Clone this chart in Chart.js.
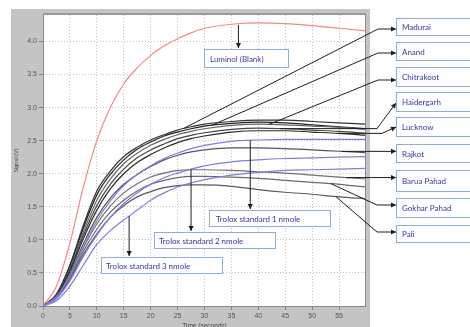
<!DOCTYPE html>
<html><head><meta charset="utf-8">
<script src="https://cdn.jsdelivr.net/npm/chart.js@4.4.0/dist/chart.umd.min.js"></script>
<style>html,body{margin:0;padding:0;background:#fff;overflow:hidden}</style>
</head><body>
<canvas id="c" width="470" height="327"></canvas>
<script>
// ---- data ----
const times      = [0, 2.5, 5, 7.5, 10, 12.5, 15, 17.5, 20, 22.5, 25, 27.5, 30, 35, 40, 45, 50, 55, 60];
const luminol    = [0, 0.30, 0.95, 1.80, 2.50, 3.00, 3.36, 3.60, 3.79, 3.93, 4.04, 4.13, 4.20, 4.26, 4.28, 4.27, 4.24, 4.20, 4.16];
const madurai    = [0, 0.18, 0.62, 1.22, 1.74, 2.04, 2.26, 2.40, 2.51, 2.59, 2.66, 2.71, 2.75, 2.79, 2.81, 2.81, 2.79, 2.77, 2.75];
const anand      = [0, 0.17, 0.60, 1.18, 1.68, 1.99, 2.21, 2.37, 2.48, 2.57, 2.63, 2.68, 2.72, 2.76, 2.78, 2.77, 2.74, 2.71, 2.68];
const chitrakoot = [0, 0.16, 0.57, 1.12, 1.60, 1.92, 2.15, 2.31, 2.43, 2.52, 2.59, 2.64, 2.68, 2.73, 2.75, 2.74, 2.72, 2.70, 2.67];
const haidergarh = [0, 0.16, 0.55, 1.07, 1.52, 1.84, 2.07, 2.24, 2.36, 2.45, 2.53, 2.58, 2.62, 2.67, 2.69, 2.68, 2.66, 2.64, 2.61];
const lucknow    = [0, 0.15, 0.52, 1.02, 1.45, 1.77, 2.00, 2.17, 2.29, 2.39, 2.47, 2.53, 2.57, 2.63, 2.65, 2.65, 2.63, 2.61, 2.58];
const rajkot     = [0, 0.14, 0.48, 0.94, 1.34, 1.63, 1.84, 1.99, 2.11, 2.21, 2.28, 2.33, 2.36, 2.39, 2.39, 2.38, 2.36, 2.34, 2.32];
const baruaPahad = [0, 0.13, 0.45, 0.88, 1.24, 1.51, 1.71, 1.85, 1.95, 2.01, 2.05, 2.06, 2.06, 2.05, 2.03, 2.01, 1.98, 1.95, 1.92];
const gokharPahad= [0, 0.12, 0.42, 0.83, 1.16, 1.42, 1.60, 1.74, 1.84, 1.90, 1.94, 1.96, 1.96, 1.95, 1.93, 1.90, 1.87, 1.84, 1.80];
const pali       = [0, 0.12, 0.40, 0.78, 1.09, 1.34, 1.52, 1.65, 1.73, 1.79, 1.82, 1.83, 1.83, 1.81, 1.76, 1.72, 1.69, 1.65, 1.62];
const trolox1    = [0, 0.14, 0.46, 0.90, 1.29, 1.59, 1.82, 1.99, 2.12, 2.23, 2.31, 2.38, 2.43, 2.49, 2.51, 2.52, 2.52, 2.52, 2.52];
const trolox2    = [0, 0.11, 0.38, 0.75, 1.07, 1.34, 1.55, 1.71, 1.84, 1.94, 2.01, 2.07, 2.12, 2.18, 2.21, 2.23, 2.24, 2.25, 2.26];
const trolox3    = [0, 0.08, 0.30, 0.62, 0.93, 1.14, 1.30, 1.45, 1.60, 1.71, 1.80, 1.86, 1.91, 1.98, 2.02, 2.05, 2.06, 2.07, 2.08];
const xTickValues = [0, 5, 10, 15, 20, 25, 30, 35, 40, 45, 50, 55];
const yTickValues = [0, 0.5, 1.0, 1.5, 2.0, 2.5, 3.0, 3.5, 4.0];

function pts(arr){ return arr.map((v,i)=>({x:times[i], y:v})); }
function interp(arr, t){
  for (let i=0;i<times.length-1;i++){
    if (t>=times[i] && t<=times[i+1]){
      const f=(t-times[i])/(times[i+1]-times[i]);
      return arr[i]+(arr[i+1]-arr[i])*f;
    }
  }
  return arr[arr.length-1];
}

const series = [
  {label:'Trolox standard 3 nmole', d:trolox3, c:'#7d7de6'},
  {label:'Trolox standard 2 nmole', d:trolox2, c:'#7d7de6'},
  {label:'Trolox standard 1 nmole', d:trolox1, c:'#7d7de6'},
  {label:'Pali', d:pali, c:'#5a5a5a'},
  {label:'Gokhar Pahad', d:gokharPahad, c:'#6a6a6a'},
  {label:'Barua Pahad', d:baruaPahad, c:'#707070'},
  {label:'Rajkot', d:rajkot, c:'#555'},
  {label:'Lucknow', d:lucknow, c:'#2a2a2a'},
  {label:'Haidergarh', d:haidergarh, c:'#444'},
  {label:'Chitrakoot', d:chitrakoot, c:'#666'},
  {label:'Anand', d:anand, c:'#222'},
  {label:'Madurai', d:madurai, c:'#333'},
  {label:'Luminol (Blank)', d:luminol, c:'#f08a8a'}
];

const annot = {
  id:'annot',
  beforeDraw(chart){
    const ctx=chart.ctx, a=chart.chartArea;
    ctx.save();
    ctx.fillStyle='#fff'; ctx.fillRect(0,0,chart.width,chart.height);
    ctx.fillStyle='#c4c4c4'; ctx.fillRect(11,9,359,318);
    ctx.fillStyle='#fff'; ctx.fillRect(a.left,a.top,a.right-a.left,a.bottom-a.top);
    ctx.restore();
  },
  afterDraw(chart){
    const ctx=chart.ctx, a=chart.chartArea, xs=chart.scales.x, ys=chart.scales.y;
    const P=(arr,t)=>[xs.getPixelForValue(t), ys.getPixelForValue(interp(arr,t))];
    ctx.save();
    // frame
    ctx.strokeStyle='#8a8a8a'; ctx.lineWidth=1;
    ctx.strokeRect(a.left+0.5,a.top-0.5,a.right-a.left-1,a.bottom-a.top+1);
    ctx.strokeStyle='#9a9a9a'; ctx.lineWidth=2;
    ctx.beginPath(); ctx.moveTo(a.left,a.top-1); ctx.lineTo(a.right,a.top-1); ctx.stroke();

    function arrow(points){
      ctx.strokeStyle='#1e1e1e'; ctx.fillStyle='#1e1e1e'; ctx.lineWidth=1;
      ctx.beginPath(); ctx.moveTo(points[0][0],points[0][1]);
      for(let i=1;i<points.length;i++) ctx.lineTo(points[i][0],points[i][1]);
      ctx.stroke();
      const p=points[points.length-1], q=points[points.length-2];
      const ang=Math.atan2(p[1]-q[1],p[0]-q[0]);
      const L=5, W=2.6;
      ctx.beginPath();
      ctx.moveTo(p[0],p[1]);
      ctx.lineTo(p[0]-L*Math.cos(ang)+W*Math.sin(ang), p[1]-L*Math.sin(ang)-W*Math.cos(ang));
      ctx.lineTo(p[0]-L*Math.cos(ang)-W*Math.sin(ang), p[1]-L*Math.sin(ang)+W*Math.cos(ang));
      ctx.closePath(); ctx.fill();
    }
    function box(x1,y1,x2,y2,text,tx){
      ctx.fillStyle='#fff'; ctx.fillRect(x1,y1,x2-x1,y2-y1);
      ctx.strokeStyle='#8eaede'; ctx.lineWidth=1;
      ctx.strokeRect(x1+0.5,y1+0.5,x2-x1-1,y2-y1-1);
      ctx.fillStyle='#3434b0'; ctx.font='8px Lato, "Liberation Sans", sans-serif';
      ctx.textBaseline='middle'; ctx.textAlign='left';
      ctx.fillText(text,tx,(y1+y2)/2+0.5);
    }
    // inside arrows
    let s=P(luminol,36.3); arrow([[s[0],s[1]+1],[s[0],48]]);
    s=P(trolox1,38.5); arrow([s,[s[0],209]]);
    s=P(trolox2,27.5); arrow([s,[s[0],231]]);
    s=P(trolox3,16); arrow([s,[s[0],256]]);
    // right arrows
    s=P(madurai,26); arrow([s,[378,29],[396,29]]);
    s=P(anand,31.3); arrow([s,[378,53],[396,53]]);
    s=P(chitrakoot,42); arrow([s,[378,80],[396,80]]);
    s=P(haidergarh,44); arrow([s,[377,s[1]],[396,103]]);
    s=P(lucknow,55); arrow([s,[382,s[1]],[396,127]]);
    s=P(rajkot,55.5); arrow([s,[396,s[1]]]);
    s=P(baruaPahad,56.3); arrow([s,[396,s[1]]]);
    s=P(gokharPahad,53.5); arrow([s,[377,205],[396,205]]);
    s=P(pali,54.4); arrow([s,[377,232],[396,232]]);
    // boxes
    box(204,49,289,68,'Luminol (Blank)',210);
    box(209,210,331,227,'Trolox standard 1 nmole',216);
    box(154,232,276,249,'Trolox standard 2 nmole',159);
    box(101,257,223,274,'Trolox standard 3 nmole',106);
    box(396,18,476,36,'Madurai',402);
    box(396,42,476,61,'Anand',402);
    box(396,67,476,87,'Chitrakoot',402);
    box(396,92,476,112,'Haidergarh',402);
    box(396,117,476,137,'Lucknow',402);
    box(396,144,476,163,'Rajkot',402);
    box(396,170,476,192,'Barua Pahad',402);
    box(396,198,476,218,'Gokhar Pahad',402);
    box(396,225,476,243,'Pali',402);
    ctx.restore();
  }
};

new Chart(document.getElementById('c'), {
  type:'line',
  data:{ datasets: series.map(s=>({label:s.label, data:pts(s.d), borderColor:s.c, borderWidth:1.2,
    pointRadius:0, fill:false, cubicInterpolationMode:'monotone'})) },
  options:{
    responsive:false, animation:false, devicePixelRatio:1,
    layout:{padding:{left:11,right:104,top:15,bottom:0}},
    plugins:{legend:{display:false}, tooltip:{enabled:false}},
    scales:{
      x:{type:'linear', min:0, max:60,
        afterBuildTicks(sc){ sc.ticks = xTickValues.map(v=>({value:v})); },
        afterFit(sc){ sc.height = 21; },
        grid:{color:'#c2c2c2', lineWidth:1, drawTicks:true, tickLength:4, tickColor:'#7080c0'},
        border:{display:false, dash:[1,2]},
        ticks:{color:'#555', font:{family:'"Liberation Sans", sans-serif', size:7}, padding:2, maxRotation:0,
          callback:v=>String(v)},
        title:{display:true, text:'Time (seconds)', color:'#444', font:{family:'"Liberation Sans", sans-serif', size:6.5}, padding:{top:0,bottom:-3}}
      },
      y:{type:'linear', min:0, max:4.4,
        afterBuildTicks(sc){ sc.ticks = yTickValues.map(v=>({value:v})); },
        afterFit(sc){ sc.width = 32; },
        grid:{color:'#c2c2c2', lineWidth:1, drawTicks:true, tickLength:4, tickColor:'#7080c0'},
        border:{display:false, dash:[1,2]},
        ticks:{color:'#555', font:{family:'"Liberation Sans", sans-serif', size:7}, padding:2,
          callback:v=>Number(v).toFixed(1)},
        title:{display:true, text:'Signal (V)', color:'#444', font:{family:'"Liberation Sans", sans-serif', size:5.5}, padding:{top:2,bottom:0}}
      }
    }
  },
  plugins:[annot]
});
</script>
</body></html>
